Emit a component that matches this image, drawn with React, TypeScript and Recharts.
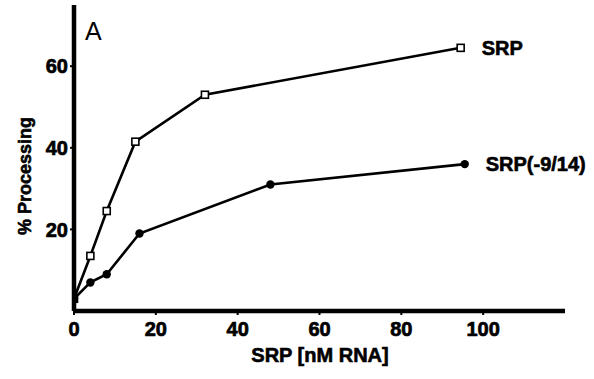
import React from "react";
import { LineChart, Line, XAxis, YAxis, Label, LabelList } from "recharts";

const srpX = [0, 4, 8, 15, 32, 94.5];
const srpY = [3, 13.5, 24.5, 41.5, 53, 64.5];
const mutX = [0, 4, 8, 16, 48, 95.5];
const mutY = [3, 7, 9, 19, 31, 36];
const xTicks = [0, 20, 40, 60, 80, 100];
const yTicks = [20, 40, 60];

const srpData = srpX.map((x, i) => ({ x, y: srpY[i] }));
const mutData = mutX.map((x, i) => ({ x, y: mutY[i] }));

const FONT = "'Liberation Sans', Arial, sans-serif";

const OpenSquare = (p: any) => (
  <rect x={p.cx - 3.5} y={p.cy - 3.5} width={7} height={7} fill="#fff" stroke="#000" strokeWidth={1.6} />
);
const FilledDot = (p: any) => <circle cx={p.cx} cy={p.cy} r={4.2} fill="#000" />;

const endLabel = (text: string, last: number) => (p: any) =>
  p.index === last ? (
    <text x={p.x + 21} y={p.y + 7} fontFamily={FONT} fontWeight="bold" fontSize={20} fill="#000" stroke="#000" strokeWidth={0.6}>
      {text}
    </text>
  ) : null;

export default function App() {
  return (
    <div style={{ position: "absolute", left: 0, top: 0, width: 594, height: 379, background: "#fff" }}>
      <LineChart width={594} height={379} margin={{ top: 5, right: 29, bottom: 28, left: 14 }}>
        <XAxis
          type="number"
          dataKey="x"
          domain={[0, 120]}
          ticks={xTicks}
          allowDataOverflow
          height={40}
          axisLine={{ stroke: "#000", strokeWidth: 4.5 }}
          tickLine={{ stroke: "#000", strokeWidth: 2 }}
          tickSize={4}
          tick={{ fill: "#000", fontFamily: FONT, fontWeight: "bold", fontSize: 20, stroke: "#000", strokeWidth: 0.7 }}
          tickMargin={7}
        >
          <Label
            content={() => (
              <text x={320} y={362} textAnchor="middle" fontFamily={FONT} fontWeight="bold" fontSize={20} fill="#000" stroke="#000" strokeWidth={0.6}>
                SRP [nM RNA]
              </text>
            )}
          />
        </XAxis>
        <YAxis
          type="number"
          dataKey="y"
          domain={[0, 75]}
          ticks={yTicks}
          allowDataOverflow
          width={60}
          axisLine={{ stroke: "#000", strokeWidth: 4.5 }}
          tickLine={{ stroke: "#000", strokeWidth: 2 }}
          tickSize={4}
          tick={{ fill: "#000", fontFamily: FONT, fontWeight: "bold", fontSize: 20, stroke: "#000", strokeWidth: 0.7 }}
          tickMargin={2}
        >
          <Label
            content={() => (
              <text x={31} y={176} transform="rotate(-90 31 176)" textAnchor="middle" fontFamily={FONT} fontWeight="bold" fontSize={18} fill="#000" stroke="#000" strokeWidth={0.6}>
                % Processing
              </text>
            )}
          />
        </YAxis>
        <Line
          data={srpData}
          dataKey="y"
          type="linear"
          stroke="#000"
          strokeWidth={2.6}
          dot={<OpenSquare />}
          isAnimationActive={false}
        >
          <LabelList dataKey="y" content={endLabel("SRP", srpData.length - 1)} />
        </Line>
        <Line
          data={mutData}
          dataKey="y"
          type="linear"
          stroke="#000"
          strokeWidth={2.6}
          dot={<FilledDot />}
          isAnimationActive={false}
        >
          <LabelList dataKey="y" content={endLabel("SRP(-9/14)", mutData.length - 1)} />
        </Line>
      </LineChart>
      <div style={{ position: "absolute", left: 85, top: 17, fontFamily: FONT, fontSize: 25, color: "#000" }}>A</div>
    </div>
  );
}
